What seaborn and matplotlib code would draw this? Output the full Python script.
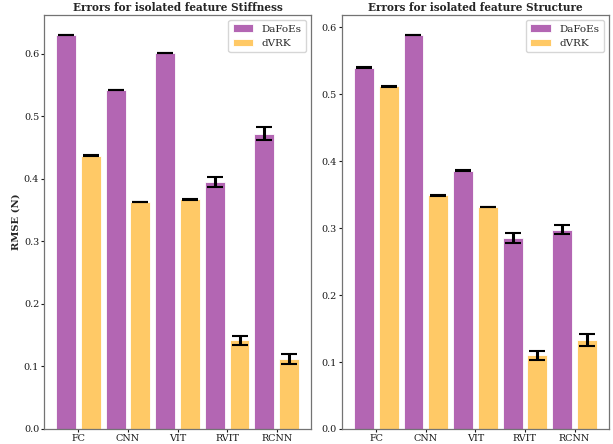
import matplotlib
matplotlib.use("Agg")
import matplotlib.pyplot as plt
import seaborn as sns
import pandas as pd
import numpy as np

# Data
models = ["FC", "CNN", "VIT", "RVIT", "RCNN"]
datasets = ["DaFoEs", "dVRK"]

stiff_dafoes = [0.630, 0.542, 0.601, 0.395, 0.472]
stiff_dafoes_err = [0.0003, 0.0003, 0.0003, 0.008, 0.010]
stiff_dvrk = [0.437, 0.363, 0.367, 0.142, 0.112]
stiff_dvrk_err = [0.0003, 0.0003, 0.0003, 0.007, 0.008]

struct_dafoes = [0.540, 0.589, 0.386, 0.285, 0.298]
struct_dafoes_err = [0.0003, 0.0003, 0.0003, 0.0075, 0.007]
struct_dvrk = [0.512, 0.349, 0.332, 0.110, 0.133]
struct_dvrk_err = [0.0003, 0.0003, 0.0003, 0.007, 0.0085]

colors = ["#b366b3", "#ffc966"]  # purple / orange at alpha 0.6 on white

sns.set_style("ticks")
plt.rcParams["font.family"] = ["DejaVu Serif"]


def make_df(a, b):
    return pd.DataFrame({
        "Model": models * 2,
        "RMSE": a + b,
        "Data": [datasets[0]] * len(models) + [datasets[1]] * len(models),
    })


def draw(ax, a, a_err, b, b_err, title):
    df = make_df(a, b)
    sns.barplot(data=df, x="Model", y="RMSE", hue="Data", order=models,
                hue_order=datasets, palette=colors, saturation=1,
                width=1.0, gap=0.2, edgecolor="white", linewidth=0.6,
                errorbar=None, ax=ax)
    # add precomputed error bars at bar centres
    for cont, err in zip(ax.containers, [a_err, b_err]):
        xs = [p.get_x() + p.get_width() / 2 for p in cont.patches]
        ys = [p.get_height() for p in cont.patches]
        ax.errorbar(xs, ys, yerr=err, fmt="none", ecolor="black",
                    elinewidth=2.2, capsize=5.5, capthick=1.5)
    ax.set_xlim(-0.695, 4.695)
    ax.set_ylim(0, max(max(a), max(b)) * 1.05)
    ax.set_title(title, fontsize=7.6, fontweight="bold", pad=3)
    ax.set_xlabel("")
    ax.tick_params(labelsize=6.9, colors="0.1", width=0.8, length=2, pad=1.5)
    for s in ax.spines.values():
        s.set_visible(True)
        s.set_color("0.45")
        s.set_linewidth(0.9)
    ax.legend(loc="upper right", fontsize=7.5, frameon=True)


fig, (ax1, ax2) = plt.subplots(1, 2, figsize=(6.13, 4.44), dpi=100)
fig.subplots_adjust(left=0.0718, right=0.9935, bottom=0.0338, top=0.966, wspace=0.115)

draw(ax1, stiff_dafoes, stiff_dafoes_err, stiff_dvrk, stiff_dvrk_err,
     "Errors for isolated feature Stiffness")
ax1.set_ylabel("RMSE (N)", fontsize=7.2, fontweight="bold", labelpad=2)

draw(ax2, struct_dafoes, struct_dafoes_err, struct_dvrk, struct_dvrk_err,
     "Errors for isolated feature Structure")
ax2.set_ylabel("")

fig.savefig("out.png", dpi=100)
